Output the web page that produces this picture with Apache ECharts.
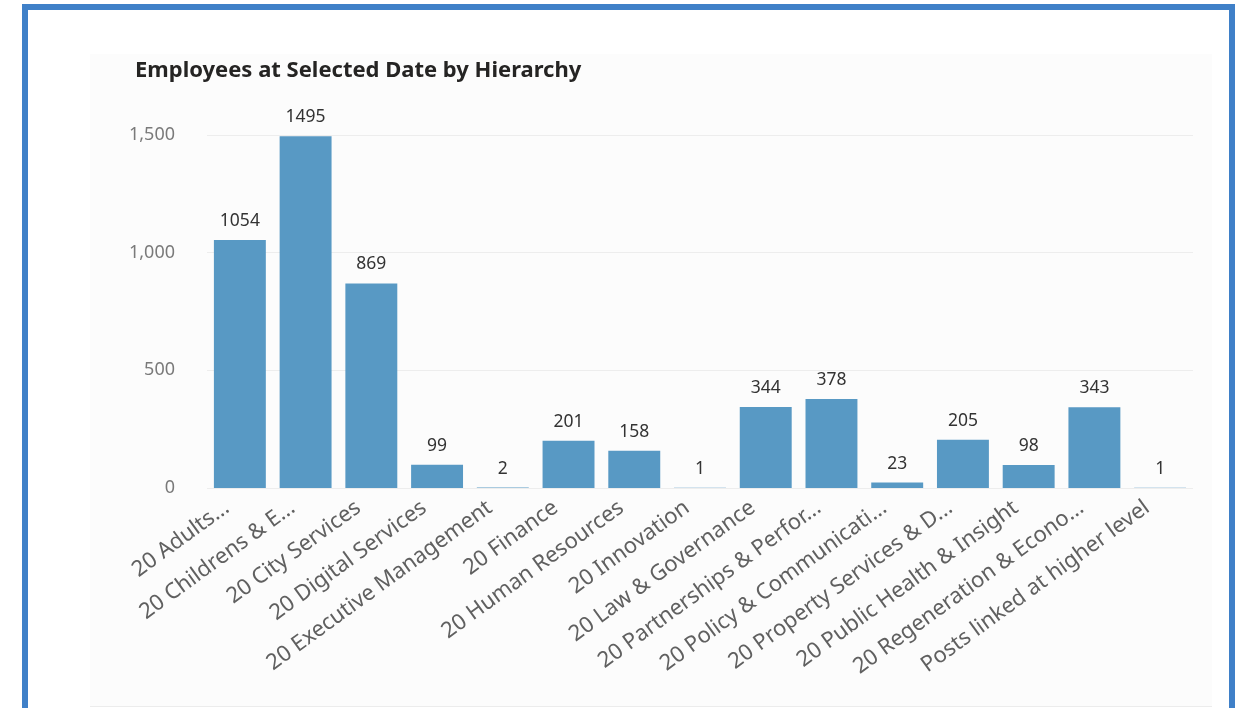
<!DOCTYPE html>
<html>
<head>
<meta charset="utf-8">
<script src="https://cdn.jsdelivr.net/npm/echarts@6/dist/echarts.min.js"></script>
<style>
  html, body { margin: 0; padding: 0; background: #ffffff; }
  #frame { position: absolute; left: 22px; top: 4px; width: 1201px; height: 720px;
           border-left: 6px solid #3f80c8; border-top: 6px solid #3f80c8; border-right: 6px solid #3f80c8; }
  #panel { position: absolute; left: 90px; top: 54px; width: 1122px; height: 652px; background: #fcfcfc;
           border-bottom: 1px solid #ececec; }
  #chart { position: absolute; left: 0; top: 0; width: 1242px; height: 708px; }
</style>
</head>
<body>
<div id="frame"></div>
<div id="panel"></div>
<div id="chart"></div>
<script>
const titleText = "Employees at Selected Date by Hierarchy";
const categories = [
  "20 Adults...",
  "20 Childrens & E...",
  "20 City Services",
  "20 Digital Services",
  "20 Executive Management",
  "20 Finance",
  "20 Human Resources",
  "20 Innovation",
  "20 Law & Governance",
  "20 Partnerships & Perfor...",
  "20 Policy & Communicati...",
  "20 Property Services & D...",
  "20 Public Health & Insight",
  "20 Regeneration & Econo...",
  "Posts linked at higher level"
];
const employees = [1054, 1495, 869, 99, 2, 201, 158, 1, 344, 378, 23, 205, 98, 343, 1];
const yTicks = [0, 500, 1000, 1500];

const chart = echarts.init(document.getElementById('chart'), null, { renderer: 'canvas' });
chart.setOption({
  backgroundColor: 'transparent',
  animation: false,
  title: {
    text: titleText,
    left: 130,
    top: 55,
    textStyle: { fontFamily: 'Noto Sans', fontWeight: 'bold', fontSize: 22, color: '#252423' }
  },
  grid: { left: 207, right: 49, top: 135, bottom: 220, containLabel: false },
  xAxis: {
    type: 'category',
    data: categories,
    axisLine: { show: false },
    axisTick: { show: false },
    axisLabel: {
      rotate: 36,
      interval: 0,
      margin: 8,
      padding: [0, 16, 0, 0],
      fontFamily: 'Noto Sans',
      fontSize: 22,
      color: '#606060'
    }
  },
  yAxis: {
    type: 'value',
    min: 0,
    max: yTicks[yTicks.length - 1],
    interval: yTicks[1] - yTicks[0],
    axisLine: { show: false },
    axisTick: { show: false },
    axisLabel: {
      margin: 32,
      fontFamily: 'Noto Sans',
      fontSize: 18,
      color: '#7a7a7a',
      formatter: v => v.toLocaleString('en-US')
    },
    splitLine: { lineStyle: { color: '#ededed', width: 1 } }
  },
  series: [{
    type: 'bar',
    data: employees,
    barCategoryGap: '21%',
    itemStyle: { color: '#5899c4' },
    label: {
      show: true,
      position: 'top',
      distance: 10,
      fontFamily: 'Noto Sans',
      fontSize: 17.5,
      color: '#333333'
    }
  }]
});
</script>
</body>
</html>
